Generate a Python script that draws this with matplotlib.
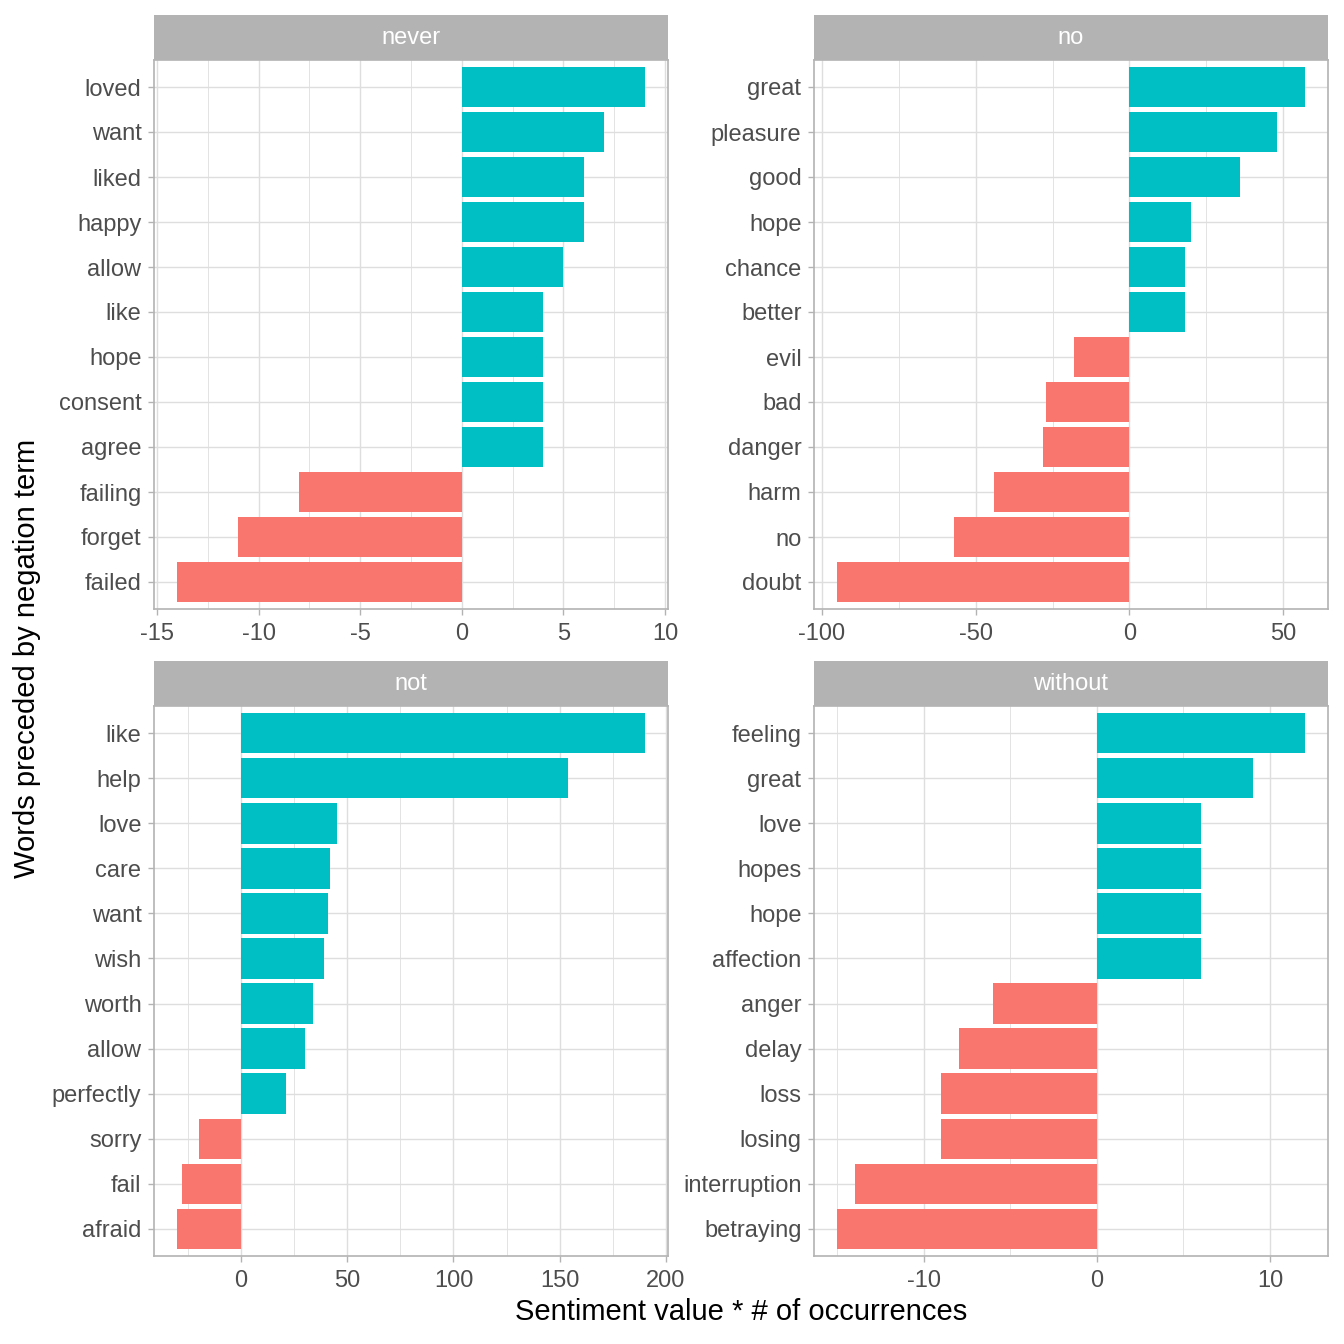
import numpy as np
import matplotlib.pyplot as plt

plt.rcParams['font.family'] = ['Liberation Sans', 'DejaVu Sans']

# words listed top to bottom, values = sentiment * occurrences
never_words = ['loved', 'want', 'liked', 'happy', 'allow', 'like', 'hope', 'consent',
               'agree', 'failing', 'forget', 'failed']
never_vals = [9, 7, 6, 6, 5, 4, 4, 4, 4, -8, -11, -14]

no_words = ['great', 'pleasure', 'good', 'hope', 'chance', 'better', 'evil', 'bad',
            'danger', 'harm', 'no', 'doubt']
no_vals = [57, 48, 36, 20, 18, 18, -18, -27, -28, -44, -57, -95]

not_words = ['like', 'help', 'love', 'care', 'want', 'wish', 'worth', 'allow',
             'perfectly', 'sorry', 'fail', 'afraid']
not_vals = [190, 154, 45, 42, 41, 39, 34, 30, 21, -20, -28, -30]

without_words = ['feeling', 'great', 'love', 'hopes', 'hope', 'affection', 'anger',
                 'delay', 'loss', 'losing', 'interruption', 'betraying']
without_vals = [12, 9, 6, 6, 6, 6, -6, -8, -9, -9, -14, -15]

panels = [
    ('never', never_words, never_vals, [-15, -10, -5, 0, 5, 10]),
    ('no', no_words, no_vals, [-100, -50, 0, 50]),
    ('not', not_words, not_vals, [0, 50, 100, 150, 200]),
    ('without', without_words, without_vals, [-10, 0, 10]),
]

pos_col = '#00BFC4'
neg_col = '#F8766D'
grid_col = '#DEDEDE'
border_col = '#B3B3B3'

W = 1344.0
boxes = [(154, 668, 60, 609), (814, 1328, 60, 609),
         (154, 668, 706, 1256), (814, 1328, 706, 1256)]
strip_h = 45

fig = plt.figure(figsize=(13.44, 13.44), dpi=100)

for (title, words, vals, ticks), (x0, x1, y0, y1) in zip(panels, boxes):
    ax = fig.add_axes([x0 / W, 1 - y1 / W, (x1 - x0) / W, (y1 - y0) / W])
    words_b = words[::-1]
    vals_b = np.array(vals[::-1])
    y = np.arange(len(words_b))
    colors = [pos_col if v > 0 else neg_col for v in vals_b]
    ax.barh(y, vals_b, height=0.9, color=colors, zorder=2)

    lo, hi = min(vals_b.min(), 0), max(vals_b.max(), 0)
    pad = (hi - lo) * 0.05
    ax.set_xlim(lo - pad, hi + pad)
    ax.set_ylim(-0.6, len(words_b) - 0.4)

    ax.set_xticks(ticks)
    ax.set_xticklabels([str(t) for t in ticks])
    step = ticks[1] - ticks[0]
    minors = np.arange(ticks[0] - step / 2, ticks[-1] + step, step)
    minors = [m for m in minors if lo - pad <= m <= hi + pad]
    ax.set_xticks(minors, minor=True)
    ax.set_yticks(y)
    ax.set_yticklabels(words_b)

    ax.grid(True, which='major', color=grid_col, linewidth=1.0, zorder=0)
    ax.grid(True, which='minor', axis='x', color=grid_col, linewidth=0.6, zorder=0)
    ax.set_axisbelow(True)
    ax.tick_params(which='major', length=4, width=1, color=border_col,
                   labelsize=17, labelcolor='#4D4D4D')
    ax.tick_params(axis='x', pad=6)
    ax.tick_params(axis='y', pad=5)
    ax.tick_params(which='minor', length=0)
    for s in ax.spines.values():
        s.set_color(border_col)
        s.set_linewidth(1.2)

    sax = fig.add_axes([x0 / W, 1 - y0 / W, (x1 - x0) / W, strip_h / W])
    sax.set_facecolor('#B3B3B3')
    sax.set_xticks([])
    sax.set_yticks([])
    for s in sax.spines.values():
        s.set_visible(False)
    sax.text(0.5, 0.5, title, ha='center', va='center', color='white',
             fontsize=17, transform=sax.transAxes)

fig.text(741 / W, 1 - 1312 / W, 'Sentiment value * # of occurrences',
         ha='center', va='center', fontsize=21)
fig.text(27 / W, 1 - 658 / W, 'Words preceded by negation term',
         ha='center', va='center', rotation=90, fontsize=21)

fig.savefig('out.png', dpi=100, facecolor='white')
